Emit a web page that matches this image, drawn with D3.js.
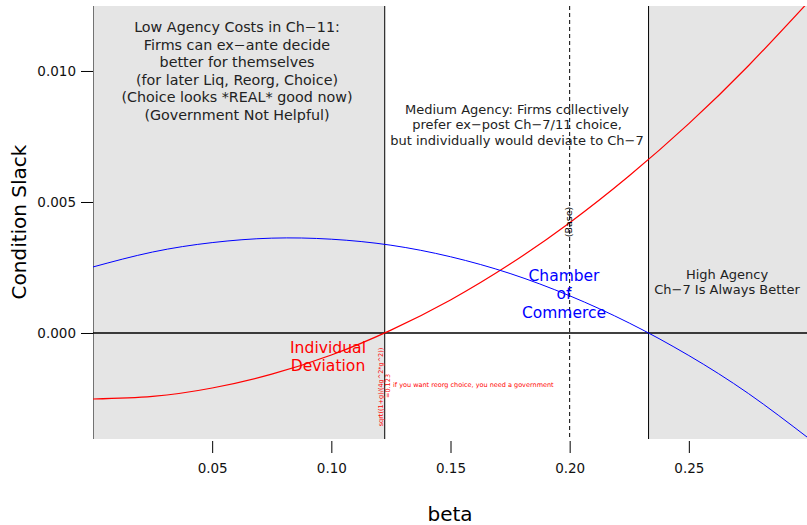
<!DOCTYPE html>
<html>
<head>
<meta charset="utf-8">
<script src="https://cdn.jsdelivr.net/npm/d3@7"></script>
<style>
  body { margin: 0; background: #fff; }
  text { font-family: "DejaVu Sans", sans-serif; }
</style>
</head>
<body>
<svg id="chart" width="807" height="525"></svg>
<script>
var width = 807, height = 525

// values
var betas = [0, 0.025, 0.05, 0.075, 0.1, 0.125, 0.15, 0.175, 0.2, 0.225, 0.25, 0.275, 0.3]
var individual = [-0.00252, -0.00242, -0.00210, -0.00157, -0.00084, 0.00011, 0.00126, 0.00263, 0.00421, 0.00600, 0.00799, 0.01020, 0.01262]
var chamber = [0.00252, 0.00309, 0.00345, 0.00362, 0.00358, 0.00335, 0.00291, 0.00227, 0.00142, 0.00038, -0.00086, -0.00231, -0.00400]

var xTicks = [0.05, 0.10, 0.15, 0.20, 0.25]
var yTicks = [0.000, 0.005, 0.010]

var lowCut = 0.1224, highCut = 0.2331, baseBeta = 0.20

var lowText = ["Low Agency Costs in Ch\u221211:", "Firms can ex\u2212ante decide", "better for themselves",
  "(for later Liq, Reorg, Choice)", "(Choice looks *REAL* good now)", "(Government Not Helpful)"]
var midText = ["Medium Agency: Firms collectively", "prefer ex\u2212post Ch\u22127/11 choice,", "but individually would deviate to Ch\u22127"]
var highText = ["High Agency", "Ch\u22127 Is Always Better"]

var x = d3.scaleLinear().domain([0, 0.3]).range([93, 808])
var y = d3.scaleLinear().domain([-0.004046, 0.01248]).range([439, 6])

var svg = d3.select('#chart')

svg.append('defs').append('clipPath').attr('id', 'plotclip')
  .append('rect').attr('x', 93).attr('y', 6).attr('width', 715).attr('height', 433)

var plot = svg.append('g').attr('clip-path', 'url(#plotclip)')

// shaded regions
plot.append('rect')
  .attr('x', x(0)).attr('y', 0)
  .attr('width', x(lowCut) - x(0)).attr('height', 460)
  .attr('fill', '#e5e5e5').attr('stroke', 'black')
plot.append('rect')
  .attr('x', x(highCut)).attr('y', 0)
  .attr('width', 200).attr('height', 460)
  .attr('fill', '#e5e5e5').attr('stroke', 'black')

// base line
plot.append('line')
  .attr('x1', x(baseBeta)).attr('x2', x(baseBeta))
  .attr('y1', 6).attr('y2', 439)
  .attr('stroke', 'black').attr('stroke-dasharray', '4,3')

// zero line
plot.append('line')
  .attr('x1', 93).attr('x2', 808)
  .attr('y1', y(0)).attr('y2', y(0))
  .attr('stroke', 'black').attr('stroke-width', 1.3)

var line = d3.line()
  .x((d, i) => x(betas[i]))
  .y(d => y(d))
  .curve(d3.curveNatural)

plot.append('path').attr('d', line(individual))
  .attr('fill', 'none').attr('stroke', 'red').attr('stroke-width', 1.2)
plot.append('path').attr('d', line(chamber))
  .attr('fill', 'none').attr('stroke', 'blue').attr('stroke-width', 1)

// annotations
function block(lines, cx, cy0, step, size, color) {
  plot.selectAll(null)
    .data(lines)
    .enter().append('text')
    .attr('x', cx)
    .attr('y', (d, i) => cy0 + i * step)
    .attr('text-anchor', 'middle')
    .attr('dominant-baseline', 'middle')
    .style('font-size', size + 'px')
    .attr('fill', color)
    .text(d => d)
}

block(lowText, 237, 28, 17.6, 14.3, '#222')
block(midText, 517, 110, 15.6, 13, '#222')
block(highText, 727, 275, 15.5, 13, '#222')
block(["Chamber", "of", "Commerce"], 564, 276, 18.5, 15.5, 'blue')
block(["Individual", "Deviation"], 328, 348, 18.5, 15.6, 'red')

plot.append('text')
  .attr('transform', 'translate(' + x(baseBeta) + ',222) rotate(-90)')
  .attr('text-anchor', 'middle').attr('dominant-baseline', 'middle')
  .style('font-size', '9.5px').text('(Base)')

plot.append('text')
  .attr('transform', 'translate(381,387) rotate(-90)')
  .attr('text-anchor', 'middle').attr('dominant-baseline', 'middle')
  .style('font-size', '6.5px').attr('fill', 'red')
  .text('sqrt((1+g)/(4g^2*g^2))')
plot.append('text')
  .attr('transform', 'translate(388,386) rotate(-90)')
  .attr('text-anchor', 'middle').attr('dominant-baseline', 'middle')
  .style('font-size', '6.5px').attr('fill', 'red')
  .text('=0.123')
plot.append('text')
  .attr('x', 393).attr('y', 385)
  .attr('dominant-baseline', 'middle')
  .style('font-size', '6.5px').attr('fill', 'red')
  .text('if you want reorg choice, you need a government')

// axes
var yAxis = svg.append('g')
  .attr('transform', 'translate(93,0)')
  .call(d3.axisLeft(y).tickValues(yTicks).tickFormat(d3.format('.3f')).tickSize(12).tickPadding(5))
yAxis.select('.domain').remove()
yAxis.selectAll('text').style('font-size', '13.5px').attr('fill', '#111')

var xAxis = svg.append('g')
  .attr('transform', 'translate(0,441)')
  .call(d3.axisBottom(x).tickValues(xTicks).tickFormat(d3.format('.2f')).tickSize(12).tickPadding(10))
xAxis.select('.domain').remove()
xAxis.selectAll('text').style('font-size', '13.5px').attr('fill', '#111')

svg.append('text')
  .attr('x', 450).attr('y', 515)
  .attr('text-anchor', 'middle').attr('dominant-baseline', 'middle')
  .style('font-size', '20px').text('beta')

svg.append('text')
  .attr('transform', 'translate(20,222) rotate(-90)')
  .attr('text-anchor', 'middle').attr('dominant-baseline', 'middle')
  .style('font-size', '20px').text('Condition Slack')
</script>
</body>
</html>
